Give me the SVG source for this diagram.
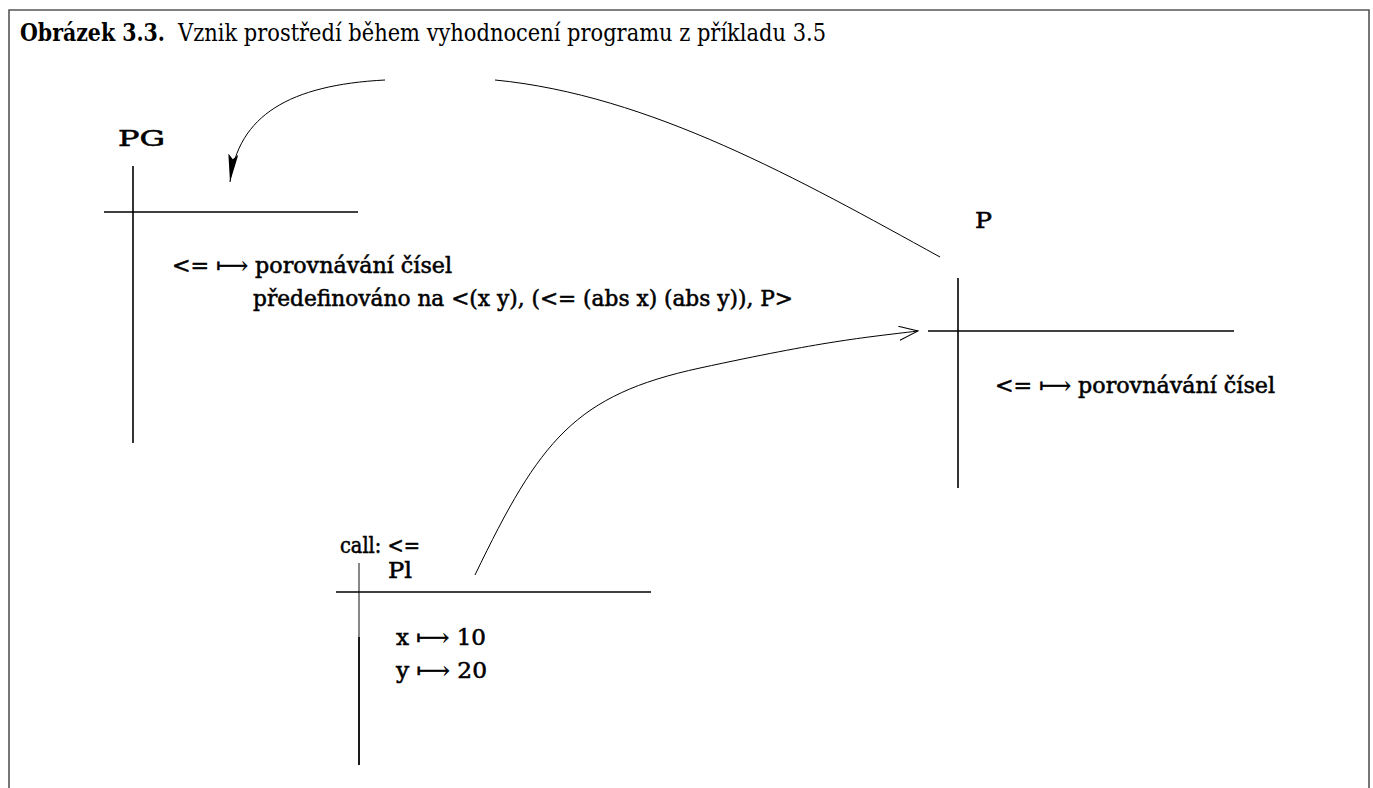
<svg xmlns="http://www.w3.org/2000/svg" width="1373" height="788" viewBox="0 0 1373 788">
<style>
  .frame { fill: none; stroke: #555; stroke-width: 1.6; }
  .title { font-family: "DejaVu Serif", "Liberation Serif", serif; font-size: 25px; font-stretch: condensed; fill: #000; }
  .t { font-family: "DejaVu Serif", "Liberation Serif", serif; font-size: 22px; font-stretch: condensed; fill: #000; stroke: #000; stroke-width: 0.5; }
  .box { stroke: #000; stroke-width: 1.6; fill: none; }
  .conn { stroke: #000; stroke-width: 1; fill: none; }
</style>
<defs>
  <marker id="solid" markerUnits="userSpaceOnUse" markerWidth="30" markerHeight="12" refX="28" refY="5" orient="auto">
    <path d="M0,0 L28,5 L0,10 L5,5 z" fill="#000"/>
  </marker>
  <marker id="open" markerUnits="userSpaceOnUse" markerWidth="22" markerHeight="16" refX="19" refY="7" orient="auto">
    <path d="M0,0 L19,7 L0,14" fill="none" stroke="#000" stroke-width="1"/>
  </marker>
</defs>
<rect width="1373" height="788" fill="#fff"/>
<path class="frame" d="M9,788 L9,10 L1369,10 L1369,788"/>
<text class="title" x="20" y="41" font-weight="bold" textLength="145" lengthAdjust="spacingAndGlyphs">Obrázek 3.3.</text>
<text class="title" x="178" y="41" textLength="648" lengthAdjust="spacingAndGlyphs">Vznik prostředí během vyhodnocení programu z příkladu 3.5</text>

<g id="PG">
  <text class="t" x="118" y="146" textLength="47" lengthAdjust="spacingAndGlyphs">PG</text>
  <line class="box" x1="133" y1="166" x2="133" y2="443"/>
  <line class="box" x1="104" y1="212" x2="358" y2="212"/>
  <text class="t" x="172" y="273" textLength="280" lengthAdjust="spacingAndGlyphs">&lt;= ⟼ porovnávání čísel</text>
  <text class="t" x="253" y="306" textLength="540" lengthAdjust="spacingAndGlyphs">předefinováno na &lt;(x y), (&lt;= (abs x) (abs y)), P&gt;</text>
</g>

<g id="P">
  <text class="t" x="975" y="228" textLength="17" lengthAdjust="spacingAndGlyphs">P</text>
  <line class="box" x1="958" y1="278" x2="958" y2="488"/>
  <line class="box" x1="928" y1="331" x2="1234" y2="331"/>
  <text class="t" x="995" y="393" textLength="280" lengthAdjust="spacingAndGlyphs">&lt;= ⟼ porovnávání čísel</text>
</g>

<g id="Pl">
  <text class="t" x="340" y="553" textLength="80" lengthAdjust="spacingAndGlyphs">call: &lt;=</text>
  <text class="t" x="388" y="578" textLength="24" lengthAdjust="spacingAndGlyphs">Pl</text>
  <line x1="359" y1="563" x2="359" y2="637" stroke="#555" stroke-width="1.4"/>
  <line x1="359" y1="637" x2="359" y2="765" stroke="#000" stroke-width="1.8"/>
  <line class="box" x1="336" y1="592" x2="651" y2="592"/>
  <text class="t" x="396" y="645" textLength="90" lengthAdjust="spacingAndGlyphs">x ⟼ 10</text>
  <text class="t" x="396" y="678" textLength="91" lengthAdjust="spacingAndGlyphs">y ⟼ 20</text>
</g>

<g id="connectors">
  <path class="conn" d="M940,257 C 800,180 650,95 495,80"/>
  <path class="conn" d="M385,80 C 290,85 238,115 230,182" marker-end="url(#solid)"/>
  <path class="conn" d="M475,575 C 540,440 575,395 700,368 S 860,338 918,331" marker-end="url(#open)"/>
</g>
</svg>
